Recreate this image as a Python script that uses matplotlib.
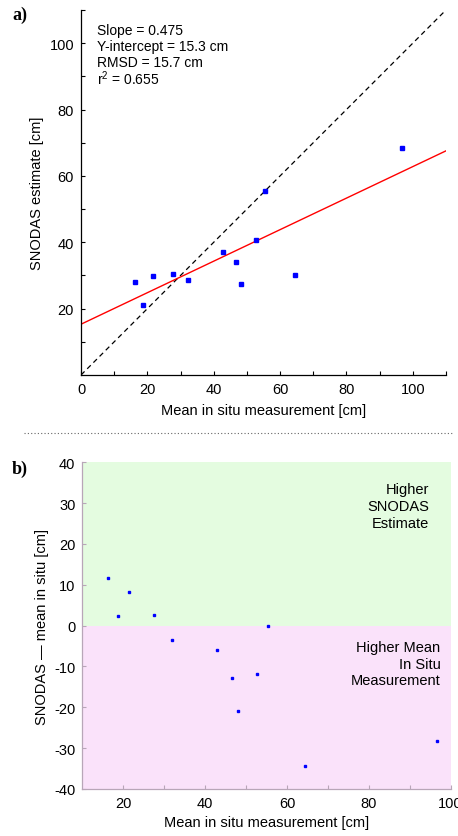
import matplotlib
matplotlib.use('Agg')
import matplotlib.pyplot as plt
from matplotlib.lines import Line2D
import numpy as np

# Data
insitu_mean = [16.3, 18.8, 21.6, 27.6, 32.1, 42.8, 46.7, 48.1, 52.8, 55.4, 64.4, 96.6]
snodas_est = [27.9, 21.2, 29.7, 30.4, 28.6, 37.0, 33.9, 27.3, 40.8, 55.3, 30.1, 68.3]
diff_insitu = [16.2, 18.6, 21.5, 27.5, 31.9, 42.8, 46.6, 48.0, 52.6, 55.3, 64.4, 96.6]
diff_vals = [11.6, 2.4, 8.2, 2.7, -3.4, -5.9, -12.8, -20.8, -11.9, -0.1, -34.4, -28.2]

SLOPE = 0.475
INTERCEPT = 15.3
stats_lines = ["Slope = 0.475", "Y-intercept = 15.3 cm", "RMSD = 15.7 cm", r"r$^2$ = 0.655"]

plt.rcParams['font.family'] = ['Liberation Sans', 'DejaVu Sans']
plt.rcParams['axes.unicode_minus'] = False
plt.rcParams['mathtext.fontset'] = 'custom'
plt.rcParams['mathtext.rm'] = 'Liberation Sans'

FS = 10.5

fig = plt.figure(figsize=(4.58, 8.37), dpi=100)

# ---- panel a
ax1 = fig.add_axes([0.1769, 0.5508, 0.9738 - 0.1769, 0.9869 - 0.5508])
xx = np.array([0, 110])
ax1.plot(xx, xx, ls=(0, (4, 3)), color='black', lw=0.9)
ax1.plot(xx, SLOPE * xx + INTERCEPT, color='red', lw=1.0)
ax1.plot(insitu_mean, snodas_est, ls='none', marker='s', ms=2.2, color='blue', mec='blue')
ax1.set_xlim(0, 110)
ax1.set_ylim(0, 110)
ax1.set_xticks(np.arange(0, 111, 10))
ax1.set_xticklabels([str(v) if v % 20 == 0 and v <= 100 else '' for v in range(0, 111, 10)])
ax1.set_yticks(np.arange(10, 111, 10))
ax1.set_yticklabels([str(v) if v % 20 == 0 and v <= 100 else '' for v in range(10, 111, 10)])
ax1.tick_params(direction='in', length=3, width=0.8, labelsize=FS, pad=5)
for s in ['top', 'right']:
    ax1.spines[s].set_visible(False)
for s in ['left', 'bottom']:
    ax1.spines[s].set_linewidth(0.9)
ax1.set_xlabel("Mean in situ measurement [cm]", fontsize=FS, labelpad=5)
ax1.set_ylabel("SNODAS estimate [cm]", fontsize=FS, labelpad=4)
for i, t in enumerate(stats_lines):
    ax1.text(97 / 458, 1 - (30.7 + 16 * i) / 837, t, transform=fig.transFigure,
             fontsize=FS - 0.5, va='center', ha='left')

# ---- panel b
ax2 = fig.add_axes([0.1797, 0.0562, 0.984 - 0.1797, 0.4465 - 0.0562])
ax2.axhspan(0, 40, color='#e4fce0', lw=0)
ax2.axhspan(-40, 0, color='#fae2fa', lw=0)
ax2.plot(diff_insitu, diff_vals, ls='none', marker='s', ms=1.8, color='blue', mec='blue')
ax2.set_xlim(10, 100)
ax2.set_ylim(-40, 40)
ax2.set_xticks(np.arange(20, 101, 10))
ax2.set_xticklabels([str(v) if v % 20 == 0 else '' for v in range(20, 101, 10)])
ax2.set_yticks(np.arange(-40, 41, 10))
ax2.tick_params(direction='in', length=3, width=0.8, labelsize=FS, pad=5, color='#b8a6b8')
for s in ['top', 'right']:
    ax2.spines[s].set_visible(False)
for s in ['left', 'bottom']:
    ax2.spines[s].set_color('#b8a6b8')
    ax2.spines[s].set_linewidth(0.9)
ax2.set_xlabel("Mean in situ measurement [cm]", fontsize=FS, labelpad=4)
ax2.set_ylabel("SNODAS \u2014 mean in situ [cm]", fontsize=FS, labelpad=4)
ax2.text(0.937, 1 - 483 / 837, "Higher\nSNODAS\nEstimate", transform=fig.transFigure,
         fontsize=FS, ha='right', va='top', multialignment='right', linespacing=1.25)
ax2.text(0.962, 1 - 641 / 837, "Higher Mean\nIn Situ\nMeasurement", transform=fig.transFigure,
         fontsize=FS, ha='right', va='top', multialignment='right', linespacing=1.25)

# panel letters and separator
fig.text(12 / 458, 1 - 15 / 837, "a)", fontsize=13, fontweight='bold',
         family='Liberation Serif', va='center', ha='left')
fig.text(12 / 458, 1 - 469 / 837, "b)", fontsize=13, fontweight='bold',
         family='Liberation Serif', va='center', ha='left')
fig.add_artist(Line2D([24 / 458, 453 / 458], [1 - 434 / 837, 1 - 434 / 837],
                      transform=fig.transFigure, color='#666666', lw=0.8, ls=(0, (1, 2))))

fig.savefig('out.png', dpi=100)
